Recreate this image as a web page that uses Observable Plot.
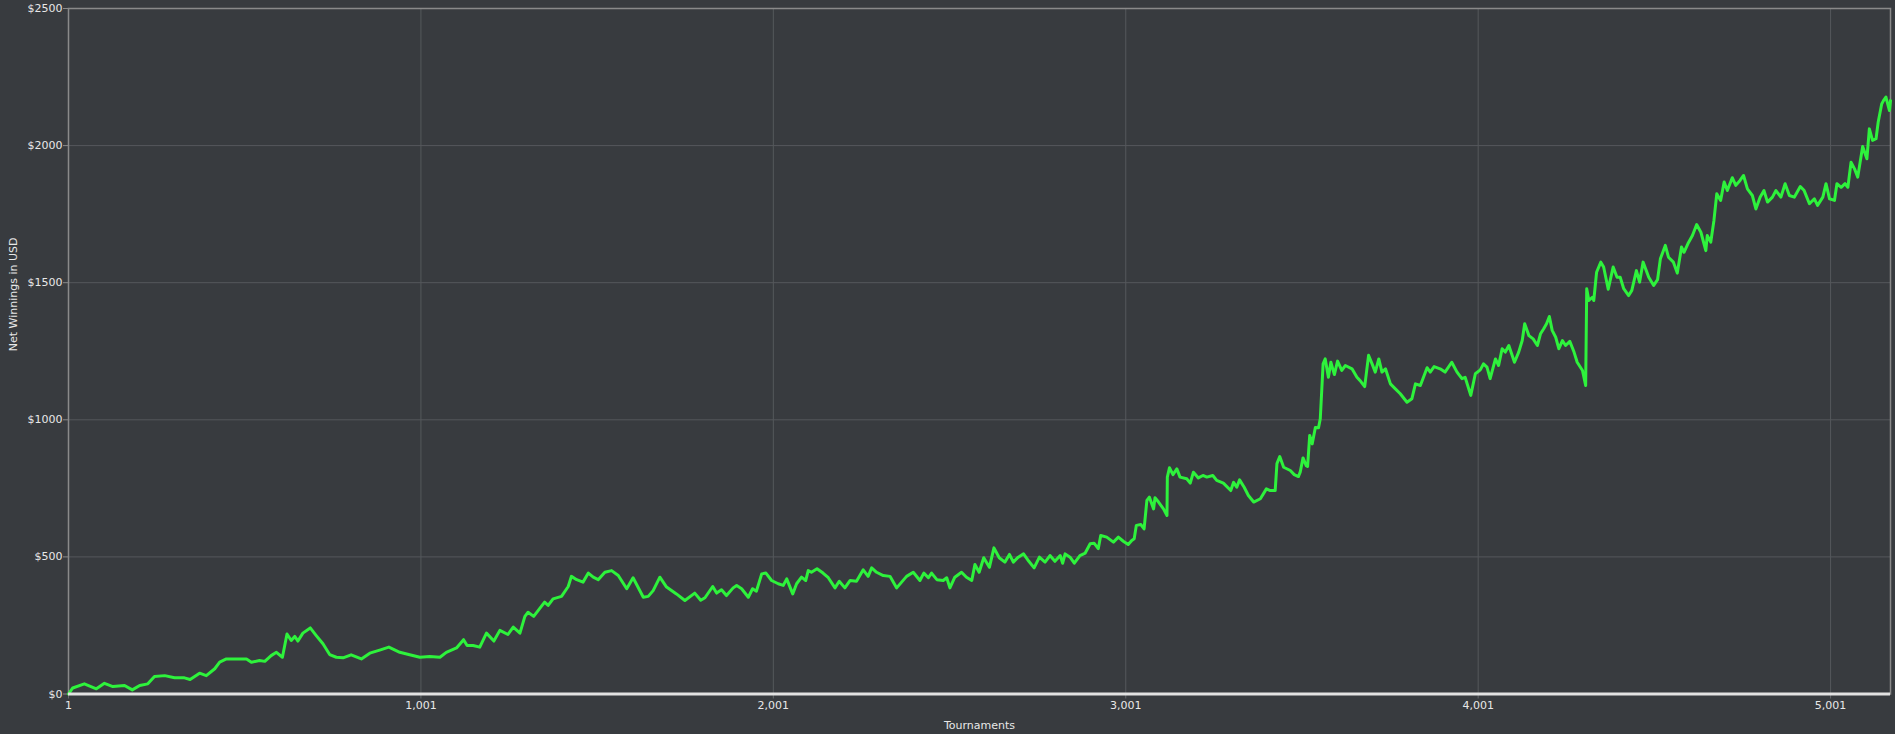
<!DOCTYPE html>
<html>
<head>
<meta charset="utf-8">
<script src="https://cdn.jsdelivr.net/npm/d3@7"></script>
<script src="https://cdn.jsdelivr.net/npm/@observablehq/plot@0.6"></script>
<style>
  html, body { margin: 0; padding: 0; background: #383b3f; overflow: hidden; }
  #chart svg { display: block; }
</style>
</head>
<body>
<div id="chart"></div>
<script>
const tournaments = [
1,13,46,80,103,127,160,182,203,226,245,274,302,330,346,373,392,416,430,449,477,506,520,543,558,576,591,608,621,633,643,652,666,687,704,723,742,761,780,803,832,856,884,910,
941,969,998,1026,1055,1073,1102,1122,1132,1149,1168,1187,1208,1225,1248,1263,1282,1296,1305,1321,1334,1352,1362,1376,1400,1419,1428,1443,1461,1476,1490,1504,1523,1542,1561,1585,1603,1632,1646,1660,1679,1698,1726,1750,1778,1795,1807,
1829,1840,1854,1868,1887,1897,1911,1930,1942,1953,1968,1980,1996,2015,2029,2039,2056,2067,2081,2093,2100,2109,2125,2142,2157,2176,2188,2204,2219,2237,2256,2270,2280,2294,2313,2332,2351,2365,2379,2398,2417,2428,2441,2450,2465,2483,2493,2502,2516,2535,2549,2564,2573,2585,2598,2614,2627,2642,2658,2671,2682,2696,2711,2726,
2741,2756,2772,2786,2800,2815,2822,2829,2843,2855,2871,2886,2900,2911,2923,2930,2947,2966,2980,2994,3008,3018,3025,3031,3044,3053,3061,3068,3080,3084,3094,3108,3118,3119,3125,3135,3146,3155,3174,3184,3193,3207,3220,3231,3248,3259,3278,3299,3307,3316,3324,3337,3349,3364,3383,3400,3411,3425,3430,3438,3449,3468,3479,3491,3496,3504,3513,3517,3523,3530,3539,3548,3553,
3561,3567,3576,3583,3593,3602,3614,3624,3643,3657,3666,3679,3690,3700,3709,3719,3728,3738,3752,3766,3780,3799,3813,3823,3837,3856,3865,3876,3893,3907,3926,3941,3955,3964,3980,3993,4007,4016,4026,4035,4050,4059,4069,4078,4088,4104,4116,4126,4133,4145,4157,4169,4178,4187,4195,4203,4211,4221,4230,4240,4249,4261,4273,4282,4297,4306,4309,4315,4325,4329,4337,4349,4357,4370,
4384,4395,4404,4414,4428,4437,4450,4459,4469,4485,4499,4510,4518,4532,4541,4555,4566,4578,4585,4596,4609,4621,4633,4647,4651,4661,4670,4678,4689,4699,4708,4722,4732,4744,4754,4765,4779,4789,4801,4812,4822,4836,4846,4860,4872,4884,4898,4915,4926,4941,4955,4964,4979,4988,4998,5012,5019,5031,5042,5050,5059,5069,5078,5092,5104,5111,5120,5130,5136,5146,5151,5158,5163,5168,5171
];
const winnings = [
0,22,37,19,39,27,31,15,31,37,64,67,59,59,53,76,67,92,116,128,128,128,116,122,119,140,152,134,219,195,210,193,222,241,213,183,144,134,132,143,128,149,160,171,
152,143,134,137,134,152,168,198,177,177,171,222,193,232,217,244,222,283,298,283,305,335,323,347,356,392,429,417,408,441,426,417,444,450,432,384,424,353,356,377,426,390,365,341,368,342,351,
392,368,380,359,387,396,384,353,384,375,438,441,414,402,396,420,365,402,426,414,450,444,457,441,424,387,411,387,414,411,453,429,460,444,432,429,387,408,429,444,414,441,424,441,417,414,424,387,426,444,426,414,472,444,497,462,533,497,481,509,481,499,511,484,
460,499,481,505,484,505,477,511,499,477,505,514,548,550,530,578,572,554,572,557,545,560,566,615,618,602,706,718,675,716,700,675,651,791,825,800,821,791,785,769,809,788,797,791,797,779,769,742,772,754,781,754,724,700,712,748,742,742,840,866,827,815,800,793,809,861,833,830,943,912,972,971,1004,
1204,1222,1155,1210,1165,1214,1180,1198,1186,1155,1143,1121,1235,1204,1174,1222,1174,1186,1131,1113,1095,1064,1077,1131,1125,1190,1174,1194,1186,1174,1210,1174,1150,1155,1089,1168,1182,1204,1192,1150,1222,1198,1259,1247,1271,1210,1247,1289,1350,1307,1295,1271,1314,1332,1350,1377,1326,1301,1259,1289,1271,1286,1247,1210,1180,1125,1478,1435,1447,1435,1538,1575,1557,1476,
1557,1520,1520,1478,1453,1472,1544,1502,1575,1520,1490,1511,1587,1636,1593,1575,1535,1630,1611,1642,1672,1712,1684,1617,1672,1648,1727,1824,1800,1867,1836,1883,1855,1873,1891,1842,1818,1769,1812,1836,1794,1812,1836,1812,1861,1818,1812,1851,1836,1788,1806,1782,1812,1861,1806,1800,1861,1848,1861,1848,1939,1915,1885,1997,1952,2061,2019,2025,2085,2152,2164,2177,2152,2128,2164
];
const xTicks = [1, 1001, 2001, 3001, 4001, 5001];
const yTicks = [0, 500, 1000, 1500, 2000, 2500];
const xTitle = "Tournaments";
const yTitle = "Net Winnings in USD";

const data = tournaments.map((t, i) => ({t, v: winnings[i]}));

const chart = Plot.plot({
  width: 1895,
  height: 734,
  marginLeft: 68,
  marginRight: 5,
  marginTop: 8,
  marginBottom: 40.5,
  style: {background: "#383b3f", color: "#e8e8e8", fontFamily: "DejaVu Sans", fontSize: "11px"},
  x: {domain: [1, 5171]},
  y: {domain: [0, 2500]},
  marks: [
    Plot.gridX({ticks: xTicks, stroke: "#55585c", strokeOpacity: 1}),
    Plot.gridY({ticks: yTicks, stroke: "#55585c", strokeOpacity: 1}),
    Plot.frame({stroke: "#8a8a8a", strokeWidth: 1.5}),
    Plot.axisX({ticks: xTicks, tickFormat: d3.format(","), tickSize: 5, tickPadding: 2, stroke: "#66696c", fill: "#e8e8e8", label: null}),
    Plot.axisY({ticks: yTicks, tickFormat: d => "$" + d, tickSize: 5, tickPadding: 1, stroke: "#8a8a8a", fill: "#e8e8e8", label: null}),
    Plot.line(data, {x: "t", y: "v", stroke: "#2ef23c", strokeWidth: 3, strokeLinejoin: "round"}),
    Plot.ruleY([0], {stroke: "#e2e2e2", strokeWidth: 3}),
    Plot.text([xTitle], {frameAnchor: "bottom", dy: 31, lineAnchor: "middle", fill: "#e8e8e8", fontSize: 11}),
    Plot.text([yTitle], {frameAnchor: "left", dx: -55, rotate: -90, lineAnchor: "middle", fill: "#e8e8e8", fontSize: 11})
  ]
});
document.getElementById("chart").append(chart);
</script>
</body>
</html>
